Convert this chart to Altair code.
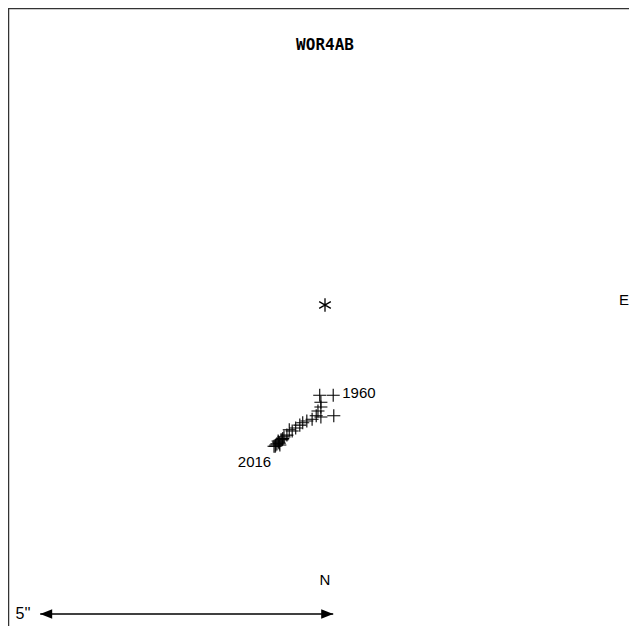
import altair as alt
import pandas as pd

# Relative positions of the companion (arcsec), x = east offset, y = north offset (north drawn downward)
obs_x = [0.14, -0.09, -0.07, -0.07, 0.15, -0.12, -0.15, -0.07, -0.22, -0.31, -0.38, -0.43,
         -0.50, -0.56, -0.61, -0.65, -0.70, -0.73, -0.72, -0.75, -0.79, -0.78, -0.80, -0.82,
         -0.84, -0.77, -0.87, -0.85]
obs_y = [1.54, 1.54, 1.66, 1.74, 1.89, 1.81, 1.89, 1.91, 1.95, 1.98, 2.01, 2.05,
         2.10, 2.15, 2.13, 2.22, 2.25, 2.30, 2.28, 2.30, 2.34, 2.36, 2.32, 2.37,
         2.39, 2.39, 2.41, 2.41]
obs_label = ["1960"] + [""] * 26 + ["2016"]

primary_x = [0.0]
primary_y = [0.0]

title = "WOR4AB"
scale_len = 5.0          # arcsec
scale_start = -4.86      # arcsec
scale_text = "5''"

W, H = 621, 618
PX = 58.6  # pixels per arcsec
cx, cy = 317, 297
xdom = [(0 - cx) / PX, (W - cx) / PX]
ydom = [(0 - cy) / PX, (H - cy) / PX]

xs = alt.Scale(domain=xdom, nice=False, zero=False)
ys = alt.Scale(domain=ydom, nice=False, zero=False, reverse=True)

obs = pd.DataFrame({"x": obs_x, "y": obs_y, "label": obs_label})
prim = pd.DataFrame({"x": primary_x, "y": primary_y})
bar_y = (606 - cy) / PX
bar = pd.DataFrame({"x": [scale_start], "x2": [scale_start + scale_len], "y": [bar_y]})
head_left = "M0,0L2,-0.8L2,0.8Z"
head_right = "M0,0L-2,-0.8L-2,0.8Z"
heads = pd.DataFrame({"x": [scale_start, scale_start + scale_len], "y": [bar_y, bar_y],
                      "shape": [head_left, head_right]})

X = lambda f="x": alt.X(f"{f}:Q", scale=xs, axis=None)
Y = lambda f="y": alt.Y(f"{f}:Q", scale=ys, axis=None)

cross_path = "M-1,0L1,0M0,-1L0,1"
star_path = "M0,-1L0,1M-0.87,-0.5L0.87,0.5M-0.87,0.5L0.87,-0.5"

border_top = alt.Chart(pd.DataFrame({"a": [0]})).mark_rule(color="#333", strokeWidth=1.5).encode(
    x=alt.value(0), x2=alt.value(W), y=alt.value(0.5))
border_left = alt.Chart(pd.DataFrame({"a": [0]})).mark_rule(color="#333", strokeWidth=1.5).encode(
    x=alt.value(0.5), y=alt.value(0), y2=alt.value(H))

title_t = alt.Chart(pd.DataFrame({"t": [title]})).mark_text(
    font="DejaVu Sans Mono", fontWeight="bold", fontSize=16, color="black").encode(
    x=alt.value(cx), y=alt.value(37), text="t:N")

lab_font = "Liberation Sans"
e_t = alt.Chart(pd.DataFrame({"t": ["E"]})).mark_text(font=lab_font, fontSize=15, color="black",
                                                     align="right").encode(
    x=alt.value(W), y=alt.value(292), text="t:N")
n_t = alt.Chart(pd.DataFrame({"t": ["N"]})).mark_text(font=lab_font, fontSize=15, color="black").encode(
    x=alt.value(cx), y=alt.value(572), text="t:N")

star = alt.Chart(prim).mark_point(shape=star_path, size=180, filled=False, color="black",
                                  strokeWidth=1.3, opacity=1).encode(x=X(), y=Y())
crosses = alt.Chart(obs).mark_point(shape=cross_path, size=170, filled=False, color="black",
                                    strokeWidth=1.1, opacity=1).encode(x=X(), y=Y())
lab1 = alt.Chart(obs.iloc[[0]]).mark_text(font=lab_font, fontSize=15, align="left", dx=9, dy=-2,
                                          color="black").encode(x=X(), y=Y(), text="label:N")
lab2 = alt.Chart(obs.iloc[[-1]]).mark_text(font=lab_font, fontSize=15, align="right", dx=-4, dy=16,
                                           color="black").encode(x=X(), y=Y(), text="label:N")

bar_rule = alt.Chart(bar).mark_rule(color="black", strokeWidth=1.5).encode(x=X(), x2="x2:Q", y=Y())
bar_heads = alt.Chart(heads).mark_point(filled=True, size=144, color="black", opacity=1,
                                        strokeWidth=0).encode(
    x=X(), y=Y(), shape=alt.Shape("shape:N", scale=None, legend=None))
bar_t = alt.Chart(pd.DataFrame({"t": [scale_text]})).mark_text(font=lab_font, fontSize=16, color="black").encode(
    x=alt.value(15), y=alt.value(606), text="t:N")

chart = alt.layer(border_top, border_left, title_t, e_t, n_t, star, crosses, lab1, lab2,
                  bar_rule, bar_heads, bar_t).properties(
    width=W, height=H, padding=0, autosize="none"
).configure_view(stroke=None).configure(background="white")

chart.save("out.html", embed_options={"renderer": "svg", "actions": False})
